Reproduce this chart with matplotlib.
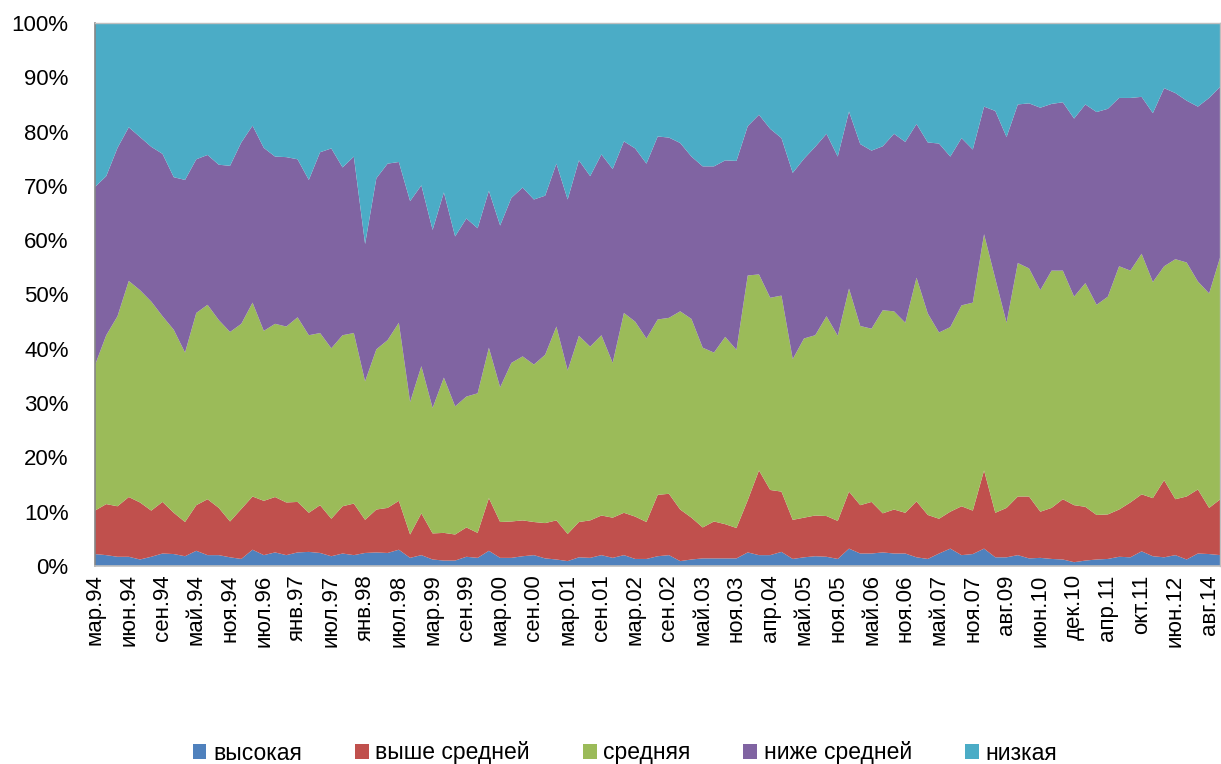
import matplotlib
matplotlib.use("Agg")
import matplotlib.pyplot as plt
from matplotlib.ticker import FuncFormatter, MultipleLocator
import numpy as np

plt.rcParams['font.family'] = ['Liberation Sans', 'DejaVu Sans']

series_names = ["высокая", "выше средней", "средняя", "ниже средней", "низкая"]
colors = ["#4F81BD", "#C0504D", "#9BBB59", "#8064A2", "#4BACC6"]

tick_labels = ["мар.94", "июн.94", "сен.94", "май.94", "ноя.94", "июл.96", "янв.97",
               "июл.97", "янв.98", "июл.98", "мар.99", "сен.99", "мар.00", "сен.00",
               "мар.01", "сен.01", "мар.02", "сен.02", "май.03", "ноя.03", "апр.04",
               "май.05", "ноя.05", "май.06", "ноя.06", "май.07", "ноя.07", "авг.09",
               "июн.10", "дек.10", "апр.11", "окт.11", "июн.12", "авг.14"]

high = [2.2, 2.0, 1.7, 1.7, 1.2, 1.7, 2.3, 2.2, 1.8, 2.8, 2.0, 2.0, 1.6, 1.3, 3.0, 2.0, 2.5, 2.0, 2.5, 2.6,
        2.4, 1.8, 2.3, 2.0, 2.4, 2.5, 2.4, 3.0, 1.5, 2.0, 1.2, 1.0, 1.0, 1.7, 1.5, 2.8, 1.5, 1.5, 1.8, 2.0,
        1.4, 1.2, 0.9, 1.6, 1.5, 2.0, 1.5, 2.0, 1.3, 1.3, 1.8, 2.0, 0.9, 1.2, 1.4, 1.4, 1.4, 1.4, 2.5, 2.0,
        2.0, 2.6, 1.3, 1.6, 1.8, 1.7, 1.3, 3.2, 2.3, 2.3, 2.5, 2.3, 2.3, 1.6, 1.3, 2.3, 3.2, 2.0, 2.2, 3.2,
        1.6, 1.6, 2.0, 1.4, 1.5, 1.3, 1.2, 0.7, 1.0, 1.2, 1.3, 1.7, 1.6, 2.7, 1.8, 1.6, 2.0, 1.2, 2.3, 2.2,
        2.0]
above_avg = [8.0, 9.4, 9.3, 11.0, 10.5, 8.5, 9.5, 7.6, 6.3, 8.4, 10.3, 8.7, 6.6, 9.2, 9.8, 10.0, 10.2, 9.7, 9.3, 7.2,
             8.8, 6.9, 8.7, 9.5, 6.1, 7.9, 8.3, 9.0, 4.3, 7.7, 4.8, 5.1, 4.8, 5.4, 4.6, 9.7, 6.6, 6.7, 6.6, 6.1,
             6.5, 7.2, 5.0, 6.5, 6.9, 7.3, 7.4, 7.8, 7.8, 6.8, 11.3, 11.3, 9.5, 7.7, 5.7, 6.8, 6.3, 5.6, 9.6, 15.6,
             12.0, 11.1, 7.2, 7.3, 7.5, 7.5, 7.0, 10.5, 8.9, 9.5, 7.2, 8.1, 7.5, 10.3, 8.1, 6.4, 6.8, 9.0, 8.0, 14.4,
             8.2, 9.1, 10.8, 11.4, 8.5, 9.4, 11.1, 10.5, 9.9, 8.2, 8.2, 8.7, 10.1, 10.5, 10.7, 14.2, 10.3, 11.6, 11.8, 8.5,
             10.3]
average = [26.8, 31.1, 35.0, 39.8, 39.1, 38.5, 34.2, 33.7, 31.2, 35.4, 35.8, 34.6, 34.9, 34.1, 35.7, 31.3, 31.9, 32.4, 34.0, 32.7,
           31.7, 31.4, 31.5, 31.4, 25.5, 29.5, 30.9, 32.8, 24.4, 27.1, 23.1, 28.6, 23.6, 24.1, 25.7, 27.7, 24.8, 29.2, 30.2, 29.0,
           31.0, 35.7, 30.1, 34.3, 32.0, 33.2, 28.5, 36.8, 35.9, 33.8, 32.3, 32.4, 36.5, 36.6, 33.1, 31.1, 34.5, 32.8, 41.4, 36.1,
           35.4, 36.1, 29.6, 33.0, 33.2, 36.8, 34.1, 37.4, 33.0, 31.9, 37.4, 36.5, 35.0, 41.2, 37.1, 34.3, 34.0, 37.0, 38.3, 43.5,
           43.1, 34.1, 43.0, 42.0, 40.8, 43.7, 42.1, 38.4, 41.2, 38.7, 40.1, 44.8, 42.7, 44.3, 39.8, 39.4, 44.2, 43.1, 38.3, 39.5,
           44.7]
below_avg = [32.8, 29.3, 31.0, 28.3, 28.2, 28.5, 29.9, 28.1, 31.8, 28.3, 27.6, 28.6, 30.6, 33.4, 32.6, 33.7, 30.8, 31.2, 29.1, 28.6,
             33.3, 36.8, 30.9, 32.5, 25.3, 31.5, 32.5, 29.6, 37.0, 33.3, 32.8, 34.1, 31.3, 32.8, 30.4, 28.9, 29.8, 30.4, 31.1, 30.4,
             29.3, 30.0, 31.5, 32.3, 31.4, 33.3, 35.7, 31.6, 31.9, 32.2, 33.7, 33.2, 31.0, 29.9, 33.4, 34.3, 32.5, 34.8, 27.5, 29.4,
             31.1, 29.0, 34.3, 33.1, 34.7, 33.6, 33.0, 32.6, 33.5, 32.8, 30.2, 32.7, 33.3, 28.3, 31.5, 34.8, 31.4, 30.8, 28.2, 23.5,
             30.9, 34.2, 29.2, 30.4, 33.6, 30.7, 31.0, 32.8, 32.9, 35.5, 34.6, 31.0, 31.8, 28.9, 31.1, 32.8, 30.6, 29.8, 32.2, 36.0,
             31.3]
low = [30.2, 28.2, 23.0, 19.2, 21.0, 22.8, 24.1, 28.4, 28.9, 25.1, 24.3, 26.1, 26.3, 22.0, 18.9, 23.0, 24.6, 24.7, 25.1, 28.9,
       23.8, 23.1, 26.6, 24.6, 40.7, 28.6, 25.9, 25.6, 32.8, 29.9, 38.1, 31.2, 39.3, 36.0, 37.8, 30.9, 37.3, 32.2, 30.3, 32.5,
       31.8, 25.9, 32.5, 25.3, 28.2, 24.2, 26.9, 21.8, 23.1, 25.9, 20.9, 21.1, 22.1, 24.6, 26.4, 26.4, 25.3, 25.4, 19.0, 16.9,
       19.5, 21.2, 27.6, 25.0, 22.8, 20.4, 24.6, 16.3, 22.3, 23.5, 22.7, 20.4, 21.9, 18.6, 22.0, 22.2, 24.6, 21.2, 23.3, 15.4,
       16.2, 21.0, 15.0, 14.8, 15.6, 14.9, 14.6, 17.6, 15.0, 16.4, 15.8, 13.8, 13.8, 13.6, 16.6, 12.0, 12.9, 14.3, 15.4, 13.8,
       11.7]

data = np.array([high, above_avg, average, below_avg, low], dtype=float)
shares = data / data.sum(axis=0) * 100.0
x = np.arange(data.shape[1])

fig = plt.figure(figsize=(12.21, 7.64), dpi=100)
ax = fig.add_axes([95/1221, 1 - 566/764, (1221 - 95)/1221 - 0.0005, (566 - 23)/764])

ax.stackplot(x, shares, colors=colors, labels=series_names, linewidth=0)

ax.set_xlim(0, len(x) - 1)
ax.set_ylim(0, 100)
ax.yaxis.set_major_locator(MultipleLocator(10))
ax.yaxis.set_major_formatter(FuncFormatter(lambda v, p: f"{int(round(v))}%"))
ax.set_xticks(np.arange(0, len(x), 3)[:len(tick_labels)])
ax.set_xticklabels(tick_labels, rotation=90, ha='center', va='top')
ax.tick_params(axis='both', length=0, labelsize=16, colors='black')
ax.tick_params(axis='x', pad=6)
ax.tick_params(axis='y', pad=19)

for side in ['top', 'right']:
    ax.spines[side].set_color('#BFBFBF')
    ax.spines[side].set_linewidth(1.0)
ax.spines['left'].set_color('#868686')
ax.spines['left'].set_linewidth(1.2)
ax.spines['bottom'].set_color('#BFBFBF')
ax.spines['bottom'].set_linewidth(1.2)

leg = fig.legend(*ax.get_legend_handles_labels(), loc='center',
                 bbox_to_anchor=(625/1221, 1 - 753/764), ncol=5, frameon=False,
                 fontsize=16.5, handlelength=0.6, handleheight=0.6, handletextpad=0.3,
                 columnspacing=2.3)

fig.savefig("out.png", dpi=100)
